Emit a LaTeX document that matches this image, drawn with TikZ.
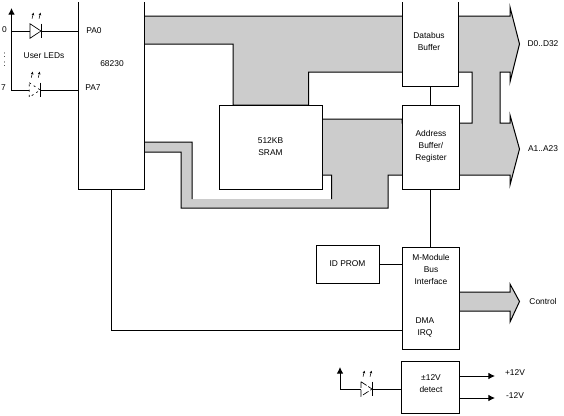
\documentclass[tikz,border=0pt]{standalone}
\usepackage{fontspec}
\usetikzlibrary{arrows.meta}
\setmainfont{Liberation Sans}
\tikzset{
	wire/.style={line width=0.75pt},
	bus/.style={line width=0.75pt,fill=black!20},
	box/.style 2 args={fill=white,inner sep=0pt,outer sep=0pt,minimum width=#1*0.75pt,minimum height=#2*0.75pt},
	lbl/.style={font=\fontsize{6.3}{9}\selectfont,inner sep=0pt,align=center},
	tip/.style={-{Latex[length=5pt,width=5pt]}},
	lit/.style={line width=0.4pt,-{Stealth[length=2pt,width=2pt]}}
}
% LED symbol drawn on an empty node
\newcommand{\ledsym}[2]{
	\draw[line width=0.5pt,#2] (#1.north west) -- (#1.east) -- (#1.south west) -- cycle;
	\draw[wire] (#1.north east) -- (#1.south east);
	\draw[lit] ([shift={(2,-5)}]#1.north west) -- ([shift={(3.5,-11)}]#1.north west);
	\draw[lit] ([shift={(9,-5)}]#1.north west) -- ([shift={(10.5,-11)}]#1.north west);
}
\begin{document}
\begin{tikzpicture}[x=0.75pt,y=-0.75pt]
	\useasboundingbox (0,0) rectangle (564,415);
	% the shared bus area, its last edge stays open
	\draw[bus] (331.5,199) -- (331.5,175) -- (322,175) -- (322,119) -- (402,119) -- (402,123) -- (472,123) -- (472,72)
		-- (308.5,72) -- (308.5,105) -- (233,105) -- (233,44) -- (144,44) -- (144,16) -- (510,16) -- (510,7)
		-- (519.5,44) -- (510,82) -- (510,72) -- (500,72) -- (500,123) -- (510,123) -- (510,115) -- (519.5,149)
		-- (510,185) -- (510,175) -- (388,175) -- (388,208) -- (181,208) -- (181,152) -- (144,152) -- (144,142)
		-- (192,142) -- (192,199);
	\draw[bus] (459,292) -- (510,292) -- (510,284) -- (519.5,301.5) -- (510,322) -- (510,311) -- (459,311) -- cycle;

	% open topped blocks
	\node[box={66.5}{187}] (chip) at (111.25,95.5) {};
	\node[box={56}{84}] (dbuf) at (430,44) {};
	\draw[wire] (chip.north west) -- (chip.south west) -- (chip.south east) -- (chip.north east);
	\draw[wire] (dbuf.north west) -- (dbuf.south west) -- (dbuf.south east) -- (dbuf.north east);

	\node[box={57}{84},draw,wire] (abuf) at (430.5,147) {};
	\node[box={103}{84},draw,wire,lbl] (sram) at (270.5,147) {512KB\\SRAM};
	\node[box={63}{38},draw,wire,lbl] (prom) at (347.5,264) {ID PROM};
	\node[box={57}{102},draw,wire] (mbus) at (430.5,298) {};
	\node[box={58}{52},draw,wire] (det) at (430,387) {};

	\node[lbl] (chiptxt) at (112,64) {68230};
	\node[lbl] (pa0) at (94,31) {PA0};
	\node[lbl] (pa7) at (93,88) {PA7};
	\node[lbl] (userled) at (44,56) {User LEDs};
	\node[lbl] (bit0) at (4.5,29.5) {0};
	\node[lbl] (bit7) at (3.5,88) {7};
	\node[lbl] (bitdots) at (4.5,60) {:\\[-2pt]:};
	\node[lbl] (dbuftxt) at (429,41) {Databus\\Buffer};
	\node[lbl] (abuftxt) at (431,146) {Address\\Buffer/\\Register};
	\node[lbl] (mbustxt) at (431,269) {M-Module\\Bus\\Interface};
	\node[lbl] (dmatxt) at (425,327) {DMA\\IRQ};
	\node[lbl] (dettxt) at (431,384) {±12V\\detect};
	\node[lbl] (dout) at (543,44) {D0..D32};
	\node[lbl] (aout) at (543,149) {A1..A23};
	\node[lbl] (ctrl) at (543,301.5) {Control};
	\node[lbl] (vplus) at (515,373) {+12V};
	\node[lbl] (vminus) at (515,396) {-12V};

	\node[inner sep=0pt,outer sep=0pt,minimum width=8.25pt,minimum height=10.9pt] (ledA) at (35.5,31) {};
	\node[inner sep=0pt,outer sep=0pt,minimum width=8.25pt,minimum height=10.9pt] (ledB) at (34.75,90) {};
	\node[inner sep=0pt,outer sep=0pt,minimum width=8.25pt,minimum height=10.9pt] (ledC) at (366.5,389) {};
	\ledsym{ledA}{}
	\ledsym{ledB}{dash pattern=on 1.5pt off 2.5pt}
	\ledsym{ledC}{dash pattern=on 5pt off 1.5pt}

	\coordinate (railtop) at (11.5,8);
	\coordinate (railend) at (11.5,90);
	\coordinate (railmid) at (11.5,31);
	\coordinate (irqline) at (402,330);
	\coordinate (lampup) at (340,367);
	\coordinate (plusend) at (495,376);
	\coordinate (minusend) at (495,398);

	\draw[wire,tip] (ledB.west) -- (railend) -- (railtop);
	\draw[wire] (railmid) -- (ledA.west);
	\draw[wire] (ledA.east) -- (chip.west |- ledA.east);
	\draw[wire] (ledB.east) -- (chip.west |- ledB.east);
	\draw[wire] (dbuf.south -| abuf.north) -- (abuf.north);
	\draw[wire] (abuf.south) -- (mbus.north);
	\draw[wire] (prom.east) -- (mbus.west |- prom.east);
	\draw[wire] (chip.south) |- (irqline);
	\draw[wire,tip] (det.east |- plusend) -- (plusend);
	\draw[wire,tip] (det.east |- minusend) -- (minusend);
	\draw[wire] (det.west |- ledC.east) -- (ledC.east);
	\draw[wire,tip] (ledC.west) -| (lampup);
\end{tikzpicture}
\end{document}
